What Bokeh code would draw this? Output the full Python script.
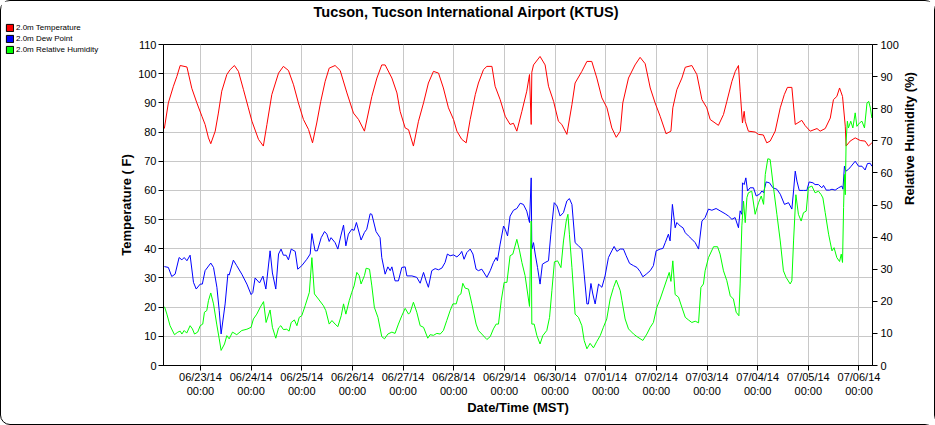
import math
import numpy as np
import pandas as pd
from bokeh.plotting import figure
from bokeh.layouts import row, column
from bokeh.models import (Range1d, LinearAxis, SingleIntervalTicker, DaysTicker, Spacer,
                          DatetimeTickFormatter, Legend, LegendItem, ColumnDataSource, Title)
from bokeh.embed import file_html
from bokeh.resources import INLINE

START = pd.Timestamp("2014-06-23 00:00")

# hours relative to 06/23/14 00:00 MST
temp_hours = [
    -17.1, -15.2, -12.8, -11.2, -9.6, -6.4, -4.1, -1.7, 0.7, 2.2,
    3.8, 4.9, 7.0, 8.5, 10.1, 12.5, 14.1, 16.1, 18.0, 20.4,
    22.7, 24.4, 27.5, 29.8, 31.5, 33.8, 37.0, 39.3, 41.7, 44.1,
    46.4, 48.8, 51.2, 53.1, 55.1, 57.0, 59.1, 61.0, 63.8, 66.2,
    69.4, 72.5, 74.9, 77.7, 81.2, 83.6, 85.9, 87.5, 90.7, 93.1,
    94.6, 97.0, 98.6, 100.9, 103.3, 105.7, 108.0, 110.4, 112.8, 115.1,
    117.5, 119.9, 121.5, 123.8, 125.9, 127.8, 130.2, 131.7, 134.1, 135.7,
    138.1, 139.6, 142.0, 144.4, 146.7, 148.3, 149.9, 152.3, 154.6, 155.9,
    156.7, 157.0, 157.8, 160.9, 163.3, 164.9, 167.3, 169.6, 171.2, 173.6,
    176.0, 177.5, 180.7, 183.1, 185.4, 187.8, 190.2, 192.6, 194.9, 197.0,
    198.9, 200.1, 202.8, 205.9, 208.3, 210.7, 213.1, 215.4, 217.8, 220.6,
    222.9, 223.8, 225.7, 228.1, 229.7, 232.8, 235.2, 237.6, 239.9, 241.5,
    245.4, 247.8, 249.4, 251.8, 253.4, 254.9, 255.7, 256.8, 257.6, 258.1,
    259.6, 262.8, 264.4, 266.7, 268.3, 269.9, 272.3, 274.7, 276.6, 278.1,
    280.2, 281.8, 284.9, 286.5, 288.9, 292.1, 293.6, 296.0, 298.4, 299.9,
    301.5, 302.8, 304.2, 305.5, 305.9, 307.8, 310.2, 312.6, 314.9, 316.5,
    318.1]
temp_f = [
    81.2, 90, 95.7, 99, 102.8, 102.3, 95, 90, 85.4, 82.6,
    78, 76, 80.3, 86.5, 94, 99.7, 101.4, 102.8, 100.8, 94.5,
    88.3, 83.7, 77.5, 75.2, 82.6, 92.8, 100.2, 102.5, 101.1, 96.2,
    90, 84.3, 80.9, 76.3, 83.1, 90.5, 97.4, 101.9, 102.8, 101.1,
    93.4, 86.5, 84.3, 80.3, 92.2, 98.5, 103, 103, 98.5, 93.4,
    87.1, 81.4, 80.8, 75.2, 83.7, 90, 96.8, 100.8, 100.2, 95.1,
    88.3, 84.3, 80.3, 77.5, 76.3, 84.3, 92.8, 96.8, 101.4, 102.5,
    102.5, 95.7, 91.1, 85.4, 82.6, 83, 80.3, 87.1, 94, 99.7,
    82.6, 100.5, 103, 105.9, 103, 95.7, 90.5, 83.7, 82.6, 79.2,
    89.4, 96.8, 100.8, 104.2, 104.2, 98.5, 91.7, 88.3, 81.4, 78.2,
    80.3, 90, 98.5, 103, 105.6, 103.4, 95.1, 90, 85.4, 79.4,
    80.3, 88.3, 94.5, 98.5, 102.2, 102.8, 99.7, 91.1, 88.3, 84.3,
    82.3, 86, 90.5, 97.4, 100.8, 102.8, 94, 83.1, 87.1, 83.7,
    80.3, 80, 79.2, 79, 76.3, 76.9, 80.3, 88.3, 92.8, 95.3,
    95.3, 82.6, 84, 82.2, 80.3, 81.2, 80.3, 81.2, 84.8, 91.1,
    92.2, 95.1, 92.2, 82, 75.2, 76.9, 78, 77.1, 76.9, 75.2,
    76.3]

dew_hours = [
    -17.1, -15.2, -13.6, -12.0, -10.1, -8.8, -7.7, -6.4, -4.9, -3.3,
    -2.0, -0.1, 0.9, 2.2, 4.9, 6.2, 7.8, 8.9, 9.8, 11.7,
    13.0, 13.6, 15.6, 17.2, 19.6, 22.0, 24.0, 24.8, 25.9, 28.0,
    29.6, 31.0, 33.0, 34.1, 35.7, 37.0, 38.2, 39.3, 40.6, 41.7,
    43.0, 44.9, 46.1, 48.0, 50.4, 52.0, 52.8, 54.3, 55.4, 57.2,
    58.8, 59.9, 61.0, 61.9, 63.8, 65.1, 66.5, 67.8, 68.9, 70.1,
    71.7, 72.8, 73.9, 76.1, 77.7, 78.8, 80.4, 81.2, 83.2, 85.1,
    85.9, 87.5, 88.8, 89.9, 90.7, 92.2, 93.8, 95.4, 97.0, 97.8,
    100.2, 102.5, 104.1, 105.7, 106.9, 108.0, 109.6, 111.2, 112.8, 114.4,
    115.9, 117.0, 118.3, 119.9, 121.5, 123.0, 123.8, 124.9, 126.2, 127.8,
    129.1, 130.6, 131.7, 133.3, 135.7, 137.3, 138.8, 140.1, 140.7, 142.0,
    143.6, 144.4, 145.5, 146.7, 148.3, 149.9, 151.5, 153.0, 154.6, 155.9,
    156.7, 157.0, 157.8, 158.6, 159.7, 160.9, 162.0, 163.3, 164.9, 166.0,
    167.6, 168.9, 170.4, 172.0, 173.6, 174.8, 176.0, 177.5, 179.1, 180.7,
    181.8, 183.1, 183.8, 185.0, 185.9, 187.0, 188.6, 190.2, 191.7, 193.3,
    194.9, 196.0, 197.3, 198.9, 200.4, 201.7, 203.3, 205.2, 206.8, 208.3,
    209.6, 211.2, 213.1, 214.6, 215.9, 217.8, 219.1, 220.2, 221.7, 222.5,
    223.6, 224.9, 225.7, 227.3, 228.6, 229.7, 231.2, 232.8, 234.4, 236.0,
    237.6, 239.1, 240.7, 242.3, 244.3, 246.2, 248.6, 250.2, 251.8, 253.3,
    254.9, 255.7, 256.5, 256.8, 257.6, 258.4, 259.2, 260.4, 262.0, 263.3,
    264.9, 266.0, 266.8, 268.0, 269.6, 271.2, 273.1, 274.7, 276.7, 278.6,
    280.2, 281.0, 281.8, 282.6, 283.7, 285.7, 287.3, 288.4, 290.2, 291.2,
    292.8, 294.4, 295.2, 296.5, 298.0, 299.2, 300.7, 302.3, 303.9, 304.4,
    305.1, 305.8, 307.0, 308.3, 310.2, 311.8, 313.4, 314.9, 316.0, 317.3,
    318.1]
dew_f = [
    33.9, 33.6, 30.5, 31.3, 37, 36.2, 37, 35.9, 37.8, 28.5,
    26.2, 27.9, 27.9, 32.5, 35.1, 33.6, 26.8, 18.8, 10.8, 21.1,
    31.3, 31, 36.1, 34.2, 31.3, 27.9, 24.3, 25, 30, 28.3,
    30.6, 26.2, 39.3, 31.7, 26.2, 38.2, 39.9, 37.8, 37.8, 36.2,
    39.9, 39.1, 33, 34.2, 36.4, 38.2, 45.2, 39.3, 39.3, 43.8,
    45.9, 45, 42.5, 43.8, 42.1, 39.9, 44.4, 48.1, 41, 45,
    46.7, 46.3, 49, 43, 45.6, 46.7, 52, 51.8, 45.9, 43.8,
    37, 31.3, 33.8, 32.5, 33.8, 29.0, 29.0, 33.6, 33.8, 30.7,
    30.7, 30.2, 28.2, 31.9, 29.0, 26.8, 32.5, 33.2, 32.8, 33.4,
    35.3, 38.2, 37.6, 37.9, 37.2, 38.2, 39.1, 36.4, 38.7, 39.9,
    38.2, 33.0, 32.5, 33.0, 30.2, 32.5, 35.3, 37.0, 35.9, 41.6,
    47.8, 46.7, 44.4, 51.2, 53.2, 53.8, 55.6, 55.2, 52.9, 49.0,
    64.3, 39.9, 42.1, 38.2, 33.6, 27.9, 34.7, 35.3, 35.9, 45.0,
    55.8, 54.7, 51.2, 52.4, 56.4, 57.2, 55.2, 42.1, 41.0, 39.9,
    31.3, 21.1, 21.1, 28.1, 24.5, 21.1, 27.9, 26.8, 30.7, 37.0,
    39.3, 40.8, 39.1, 39.9, 39.9, 37.6, 35.0, 34.2, 33.6, 32.2,
    30.4, 31.3, 32.5, 34.2, 39.3, 39.9, 40.1, 42.1, 45.0, 42.7,
    55.2, 47.2, 49.0, 47.8, 47.2, 45.5, 44.4, 43.3, 42.1, 39.9,
    49.5, 50.7, 53.6, 53.2, 53.8, 53.0, 52.0, 51.2, 50.1, 50.7,
    47.2, 53.0, 51.8, 62.6, 62.0, 64.3, 59.8, 60.9, 60.9, 58.1,
    58.7, 59.8, 59.2, 62.9, 62.6, 60.9, 60.4, 58.7, 55.2, 55.8,
    53.6, 59.8, 66.6, 63.2, 60.0, 60.0, 60.0, 62.9, 62.6, 62.0,
    62.0, 60.9, 61.7, 60.1, 60.1, 60.4, 60.1, 60.9, 61.5, 60.4,
    68.3, 66.6, 67.2, 68.3, 70.0, 68.3, 68.3, 67.0, 69.2, 69.3,
    68.3]

rh_hours = [
    -17.0, -15.9, -14.4, -12.3, -10.7, -9.6, -8.8, -7.7, -6.5, -4.9,
    -3.8, -2.8, -1.3, -0.1, 1.1, 1.9, 3.0, 3.8, 4.9, 6.2,
    7.7, 8.9, 9.8, 11.4, 12.5, 13.6, 15.2, 17.2, 19.6, 22.0,
    24.0, 25.1, 26.7, 28.3, 29.9, 31.1, 33.0, 34.1, 35.7, 37.0,
    38.1, 39.3, 40.9, 42.0, 43.0, 44.5, 45.7, 46.8, 48.0, 49.6,
    51.6, 52.8, 54.0, 55.9, 58.3, 59.4, 61.0, 62.3, 63.8, 65.1,
    66.7, 67.8, 68.9, 70.5, 71.7, 72.8, 74.1, 75.2, 76.1, 77.7,
    78.5, 80.1, 81.2, 82.4, 84.1, 85.9, 87.2, 88.8, 90.7, 92.2,
    93.8, 95.4, 97.0, 98.6, 99.4, 100.9, 102.5, 104.1, 105.7, 107.7,
    108.8, 110.4, 112.0, 113.6, 115.1, 116.7, 118.3, 119.6, 121.2, 122.2,
    123.4, 124.3, 125.4, 127.0, 128.6, 130.6, 131.7, 133.3, 135.7, 137.3,
    138.8, 140.1, 141.2, 142.5, 143.9, 145.2, 146.7, 148.0, 149.9, 151.2,
    152.3, 153.8, 155.9, 156.7, 157.0, 158.1, 159.4, 160.9, 162.2, 164.1,
    165.4, 166.5, 167.7, 169.2, 170.8, 172.0, 173.3, 174.1, 174.8, 176.0,
    177.5, 179.1, 180.7, 181.8, 183.1, 184.6, 186.2, 187.8, 189.4, 190.9,
    192.5, 194.1, 195.7, 197.0, 198.9, 199.7, 201.2, 202.8, 205.2, 206.8,
    209.6, 211.5, 213.1, 214.6, 216.2, 217.8, 219.4, 221.0, 222.1, 222.9,
    223.8, 224.9, 226.5, 228.1, 229.7, 231.2, 232.8, 234.4, 236.0, 237.1,
    238.3, 239.1, 240.7, 243.1, 245.0, 246.2, 247.8, 249.4, 251.0, 252.5,
    253.8, 255.1, 255.7, 256.5, 257.3, 258.1, 258.9, 259.6, 261.2, 262.8,
    264.4, 265.7, 266.8, 267.6, 268.8, 269.9, 271.5, 273.1, 274.7, 276.2,
    277.5, 279.4, 280.2, 281.0, 282.1, 283.3, 284.6, 285.7, 287.0, 288.0,
    289.7, 291.2, 292.8, 294.1, 294.9, 296.0, 297.6, 299.2, 300.2, 301.5,
    302.8, 303.6, 304.2, 304.7, 305.1, 305.5, 305.9, 306.5, 307.0, 308.1,
    309.1, 310.2, 311.0, 312.3, 313.4, 314.6, 315.8, 316.6, 317.4, 318.1]
rh_pct = [
    18.3, 16.0, 12.4, 9.6, 10.4, 10.7, 9.8, 10.9, 10.1, 12.4,
    11.4, 9.8, 10.4, 12.4, 12.9, 16.6, 17.1, 20.2, 22.6, 19.2,
    12.9, 8.3, 4.7, 6.7, 9.3, 8.3, 10.4, 9.6, 10.9, 11.3,
    11.9, 14.5, 16.0, 18.1, 19.9, 13.4, 17.3, 11.9, 8.5, 11.7,
    12.4, 11.2, 11.3, 10.7, 13.4, 14.2, 12.4, 15.0, 15.5, 18.6,
    22.8, 33.6, 22.3, 20.7, 18.6, 17.1, 12.9, 14.0, 12.9, 12.1,
    15.5, 19.2, 16.0, 20.2, 22.8, 24.8, 29.0, 28.0, 25.4, 28.0,
    30.3, 30.0, 24.8, 18.1, 15.0, 9.0, 8.3, 9.8, 10.4, 10.0,
    12.9, 15.5, 17.8, 16.0, 16.6, 19.7, 16.6, 12.4, 11.9, 8.5,
    9.6, 9.4, 10.0, 9.8, 10.9, 14.0, 17.1, 19.2, 19.2, 21.7,
    22.3, 25.6, 24.1, 23.8, 19.2, 12.9, 10.9, 9.8, 8.1, 9.0,
    11.4, 12.9, 12.9, 20.2, 25.9, 25.9, 34.2, 34.7, 39.3, 35.7,
    32.1, 28.0, 18.4, 45.0, 12.9, 12.9, 9.3, 6.7, 9.3, 10.9,
    15.0, 23.3, 32.3, 32.6, 30.5, 38.8, 45.0, 47.1, 40.9, 30.5,
    16.0, 15.0, 12.4, 7.8, 5.2, 6.9, 5.5, 7.5, 9.3, 11.9,
    14.5, 20.7, 24.3, 26.6, 23.3, 20.2, 14.5, 11.4, 9.8, 9.0,
    7.8, 9.8, 11.9, 13.4, 18.1, 20.7, 23.8, 26.9, 29.0, 26.2,
    32.6, 22.1, 21.3, 18.1, 15.0, 14.2, 13.4, 13.8, 13.3, 24.3,
    25.4, 29.5, 33.6, 37.0, 37.0, 34.7, 29.5, 26.4, 21.7, 20.7,
    16.6, 15.5, 25.4, 43.5, 51.2, 44.5, 52.3, 53.8, 54.3, 47.1,
    50.7, 52.8, 50.2, 59.5, 64.4, 64.2, 55.4, 47.1, 38.8, 29.5,
    27.4, 25.4, 26.4, 38.8, 53.2, 47.1, 45.0, 47.6, 48.1, 55.4,
    55.9, 53.8, 54.3, 53.2, 52.2, 47.6, 40.9, 35.7, 36.7, 33.6,
    32.4, 34.7, 32.1, 49.2, 59.5, 53.2, 69.9, 76.1, 74.0, 76.1,
    74.0, 78.7, 74.5, 75.6, 76.1, 74.0, 81.8, 82.3, 80.2, 77.1]

series_names = ["2.0m Temperature", "2.0m Dew Point", "2.0m Relative Humidity"]
series_colors = ["#ff0000", "#0000ff", "#00ff00"]


def to_time(hours):
    return [START + pd.Timedelta(hours=h) for h in hours]


FONT = "Liberation Sans"
H = 423
LEG_H = 60

# ---------------- legend panel (small plot at top-left) ----------------
leg = figure(width=110, height=LEG_H, x_range=Range1d(0, 1), y_range=Range1d(0, 1),
             output_backend="svg", toolbar_location=None,
             min_border_left=4, min_border_top=22, min_border_right=0, min_border_bottom=0)
leg.title.visible = False
leg.xaxis.visible = False
leg.yaxis.visible = False
leg.xgrid.visible = False
leg.ygrid.visible = False
leg.outline_line_color = None
leg.background_fill_color = "white"
leg.border_fill_color = "white"
proxies = []
for c in series_colors:
    proxies.append(leg.quad(left=np.array([np.nan]), right=np.array([np.nan]),
                            top=np.array([np.nan]), bottom=np.array([np.nan]),
                            fill_color=c, line_color="black", line_width=1))
legend = Legend(items=[LegendItem(label=n, renderers=[r]) for n, r in zip(series_names, proxies)],
                location="top_left", orientation="vertical",
                background_fill_alpha=0, border_line_color=None,
                padding=0, margin=0, spacing=2,
                glyph_width=9, glyph_height=9, label_height=9, label_standoff=2,
                label_text_font=FONT, label_text_font_size="8px", label_text_color="black")
leg.add_layout(legend, "center")
left_col = column(leg, Spacer(width=110, height=H - LEG_H), spacing=0)

# ---------------- main chart ----------------
p = figure(width=823, height=H, x_axis_type="datetime",
           x_range=Range1d(START + pd.Timedelta(hours=-17.5), START + pd.Timedelta(hours=318.4)),
           y_range=Range1d(0, 110),
           output_backend="svg", toolbar_location=None,
           min_border_left=52, min_border_right=62, min_border_top=42, min_border_bottom=59)
p.background_fill_color = "white"
p.border_fill_color = "white"
p.outline_line_color = "black"
p.outline_line_width = 1
p.outline_line_alpha = 1

p.extra_y_ranges = {"rh": Range1d(0, 100)}

# Title (outermost), with an empty spacer title between it and the frame
p.title.text = "Tucson, Tucson International Airport (KTUS)"
p.title.align = "left"
p.title.offset = 150
p.title.text_font = FONT
p.title.text_font_size = "14.5px"
p.title.text_font_style = "bold"
p.title.text_color = "black"
p.title.standoff = 0
spacer = Title(text=" ", text_font_size="1px", standoff=22)
p.add_layout(spacer, "above")

day_ticker = DaysTicker(days=list(range(1, 32)))
xax = p.xaxis[0]
xax.ticker = day_ticker
xax.formatter = DatetimeTickFormatter(days="%m/%d/%y\n%H:%M", strip_leading_zeros=False)
p.xgrid[0].ticker = day_ticker

yax = p.yaxis[0]
yticker = SingleIntervalTicker(interval=10)
yax.ticker = yticker
p.ygrid[0].ticker = yticker

rax = LinearAxis(y_range_name="rh", ticker=SingleIntervalTicker(interval=10),
                 axis_label="Relative Humidity (%)")
p.add_layout(rax, "right")
if "axis_label_orientation" in LinearAxis.properties():
    rax.axis_label_orientation = math.pi / 2

xax.axis_label = "Date/Time (MST)"
yax.axis_label = "Temperature ( F)"

for ax in (xax, yax, rax):
    ax.axis_line_color = "black"
    ax.major_tick_line_color = "black"
    ax.major_tick_out = 5
    ax.major_tick_in = 0
    ax.minor_tick_line_color = None
    ax.major_label_text_font = FONT
    ax.major_label_text_font_size = "11px"
    ax.major_label_text_color = "black"
    ax.axis_label_text_font = FONT
    ax.axis_label_text_font_size = "13px"
    ax.axis_label_text_font_style = "bold"
    ax.axis_label_text_color = "black"

xax.major_label_standoff = 0
xax.axis_label_standoff = 0
yax.major_label_standoff = 2
yax.axis_label_standoff = 1
rax.major_label_standoff = 3
rax.axis_label_standoff = 8

for g in (p.xgrid[0], p.ygrid[0]):
    g.grid_line_color = "#c8c8c8"
    g.grid_line_width = 1
    g.grid_line_alpha = 1

src_t = ColumnDataSource(dict(t=to_time(temp_hours), v=temp_f))
src_d = ColumnDataSource(dict(t=to_time(dew_hours), v=dew_f))
src_r = ColumnDataSource(dict(t=to_time(rh_hours), v=rh_pct))

p.line("t", "v", source=src_t, line_color=series_colors[0], line_width=1)
p.line("t", "v", source=src_d, line_color=series_colors[1], line_width=1)
p.line("t", "v", source=src_r, line_color=series_colors[2], line_width=1, y_range_name="rh")

layout = row(left_col, p, spacing=0)
layout.styles = {"border": "1px solid black", "border-radius": "10px"}

open("out.html", "w").write(file_html(layout, INLINE))
